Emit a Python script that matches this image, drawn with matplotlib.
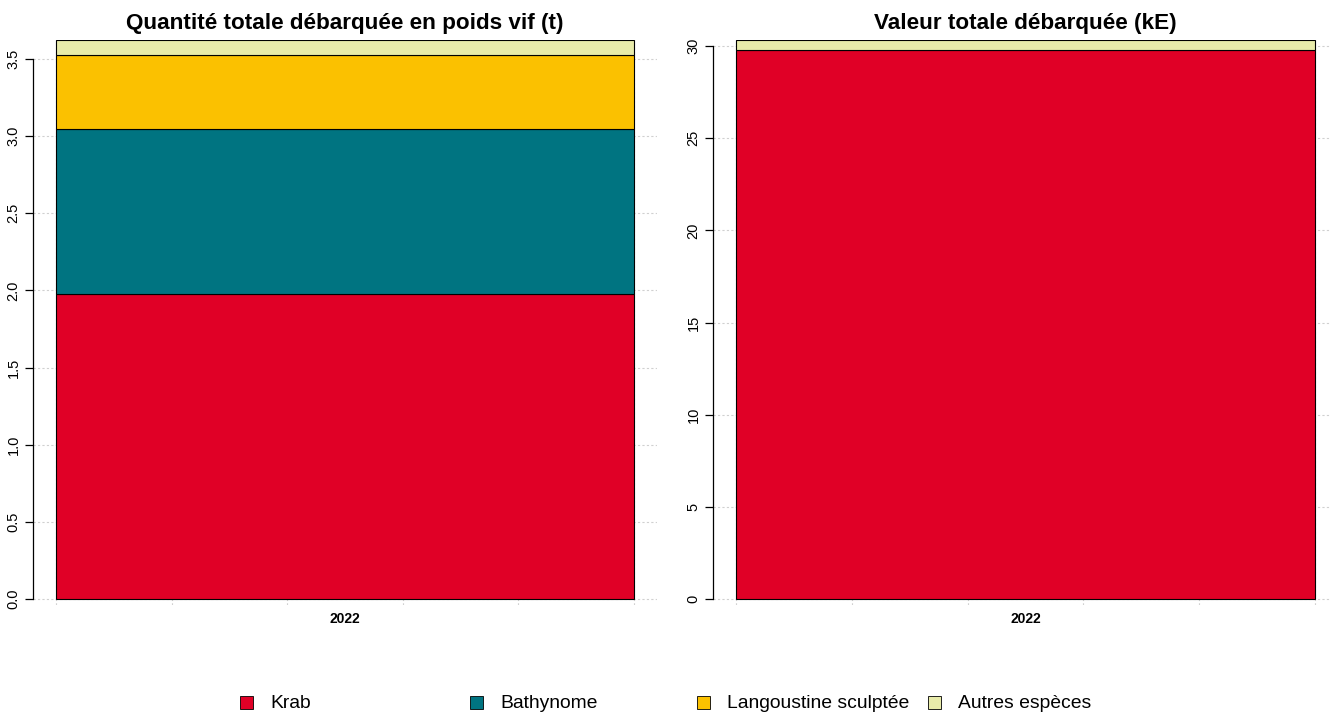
import numpy as np
import matplotlib.pyplot as plt
from matplotlib.patches import Rectangle

plt.rcParams["font.family"] = ["Liberation Sans", "DejaVu Sans"]

YEARS = ["2022"]
SPECIES = ["Krab", "Bathynome", "Langoustine sculptée", "Autres espèces"]
COLORS = ["#E00026", "#007481", "#FBC100", "#E8EBAA"]

# one value per species for 2022
QUANTITY_T = [1.98, 1.065, 0.48, 0.10]
VALUE_KE = [29.78, 0.0, 0.0, 0.55]

QTY_TICKS = [0.0, 0.5, 1.0, 1.5, 2.0, 2.5, 3.0, 3.5]
VAL_TICKS = [0, 5, 10, 15, 20, 25, 30]

W, H = 1330, 713


def px_axes(fig, left, top, right, bottom):
    return fig.add_axes([left / W, 1 - bottom / H, (right - left) / W, (bottom - top) / H])


def draw_panel(ax, values, ticks, ylim, title, fmt):
    bottom = 0.0
    for val, col in zip(values, COLORS):
        if val > 0:
            ax.bar(0.7, val, width=1.0, bottom=bottom, color=col,
                   edgecolor="black", linewidth=0.8, zorder=3)
        bottom += val

    ax.set_xlim(0.16, 1.24)
    ax.set_ylim(*ylim)

    for t in ticks:
        ax.axhline(t, color="#d0d0d0", linestyle=(0, (2, 2)), linewidth=0.8, zorder=1)
    for x in np.arange(0.2, 1.21, 0.2):
        ax.axvline(x, color="#d0d0d0", linestyle=(0, (2, 2)), linewidth=0.8, zorder=1)

    for side in ["top", "right", "bottom"]:
        ax.spines[side].set_visible(False)
    ax.spines["left"].set_bounds(ticks[0], ticks[-1])
    ax.spines["left"].set_linewidth(0.9)

    ax.set_yticks(ticks)
    ax.set_yticklabels([fmt.format(t) for t in ticks], rotation=90, va="center", fontsize=10.5)
    ax.tick_params(axis="y", length=6, width=0.9, pad=3)

    ax.set_xticks([0.7])
    ax.set_xticklabels(YEARS, fontsize=10, fontweight="bold")
    ax.tick_params(axis="x", length=0, pad=5)

    ax.set_title(title, fontsize=16.2, fontweight="bold", pad=8)


fig = plt.figure(figsize=(W / 100, H / 100), dpi=100)

ax1 = px_axes(fig, 33, 40, 657, 605)
# 0 at y=599 and 3.5 at y=59 -> 154.3 px per unit
draw_panel(ax1, QUANTITY_T, QTY_TICKS, (-6 / 154.3, 3.5 + 19 / 154.3),
           "Quantité totale débarquée en poids vif (t)", "{:.1f}")

ax2 = px_axes(fig, 713, 40, 1338, 605)
# 0 at y=599 and 30 at y=46 -> 18.43 px per unit
draw_panel(ax2, VALUE_KE, VAL_TICKS, (-6 / 18.43, 30 + 6 / 18.43),
           "Valeur totale débarquée (kE)", "{:.0f}")

# legend drawn R-style along the bottom
legend_box_x = [240, 470, 697, 928]
legend_y = 702
box = 13
for x, name, col in zip(legend_box_x, SPECIES, COLORS):
    fig.patches.append(Rectangle((x / W, (H - legend_y - box / 2) / H), box / W, box / H,
                                 transform=fig.transFigure, facecolor=col,
                                 edgecolor="black", linewidth=0.6))
    fig.text((x + box + 17) / W, (H - legend_y - 2) / H, name, fontsize=13.9,
             va="center", ha="left")

fig.savefig("out.png", dpi=100)
